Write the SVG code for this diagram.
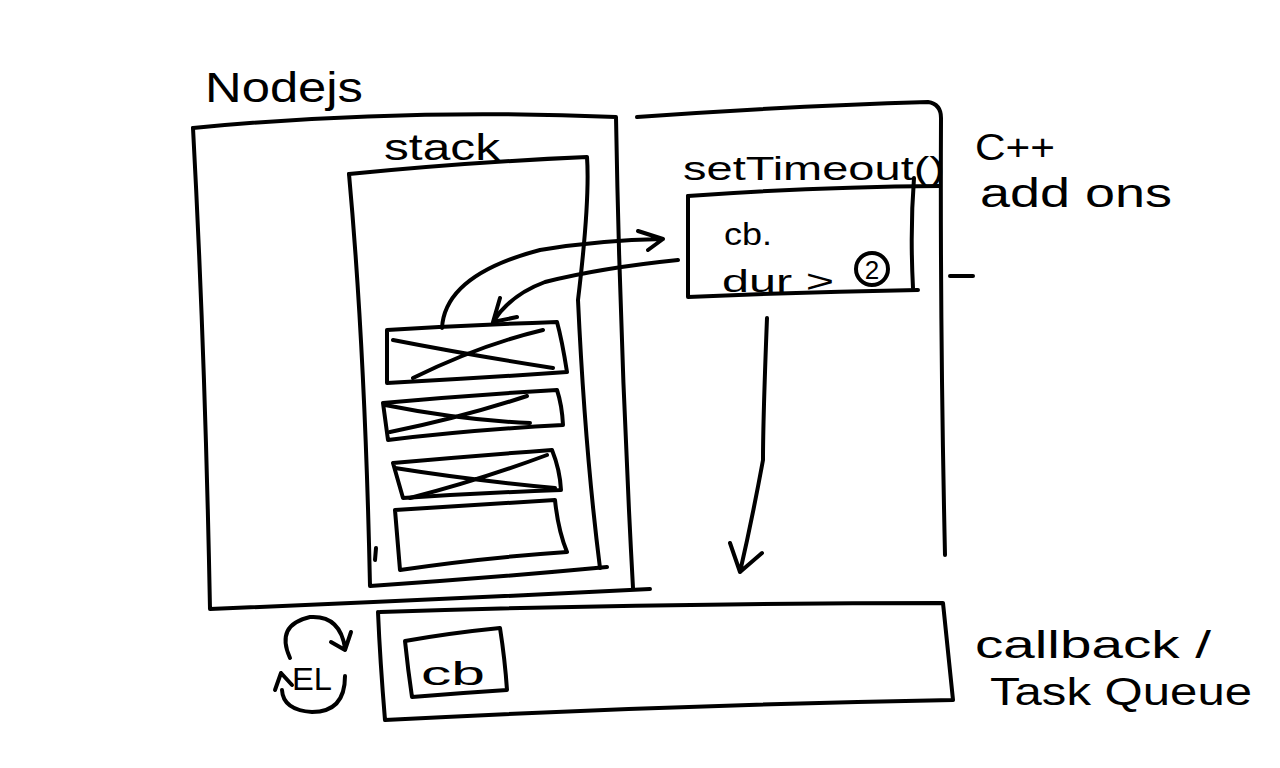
<svg xmlns="http://www.w3.org/2000/svg" width="1280" height="768" viewBox="0 0 1280 768">
<style>
.s{fill:none;stroke:#000;stroke-width:4;stroke-linecap:round;stroke-linejoin:round}
.t{font-family:"Liberation Sans","DejaVu Sans",sans-serif;fill:#000}
</style>
<rect width="1280" height="768" fill="#fff"/>
<g id="nodejs">
<path class="s" d="M193,128 Q400,108 616,117 Q620,350 633,588"/>
<path class="s" d="M193,128 Q205,350 210,609 Q430,600 650,589"/>
<text class="t" x="205" y="102" font-size="42" textLength="158" lengthAdjust="spacingAndGlyphs">Nodejs</text>
</g>
<g id="stack">
<path class="s" d="M349,174 Q470,162 587,157 Q590,200 578,300 Q585,450 600,568"/>
<path class="s" d="M349,174 Q365,350 370,586 Q490,578 607,567"/>
<text class="t" x="384" y="160" font-size="36" textLength="116" lengthAdjust="spacingAndGlyphs">stack</text>
<g id="frame1"><path class="s" d="M387,330 Q470,325 557,322 Q562,340 567,372 Q480,378 387,383 Z"/><path class="s" d="M393,340 Q470,355 553,368 M413,378 Q480,345 543,330"/></g>
<g id="frame2"><path class="s" d="M383,403 Q470,395 557,390 Q562,405 563,425 Q470,430 388,440 Z"/><path class="s" d="M385,405 Q460,420 530,423 M390,432 Q460,418 527,396"/></g>
<g id="frame3"><path class="s" d="M393,463 Q470,456 552,450 Q560,470 561,490 Q480,493 403,498 Z"/><path class="s" d="M395,468 Q470,480 555,488 M410,498 Q480,480 547,455"/></g>
<g id="frame4"><path class="s" d="M395,510 Q470,505 555,500 Q558,530 567,552 Q480,558 400,570 Z"/></g>
<path class="s" d="M376,548 L375,560"/>
</g>
<g id="cpp">
<path class="s" d="M637,117 Q790,106 928,102 Q941,104 941,118 Q940,330 945,555"/>
<text class="t" x="683" y="180" font-size="34" textLength="262" lengthAdjust="spacingAndGlyphs">setTimeout()</text>
<text class="t" x="975" y="160" font-size="36" textLength="80" lengthAdjust="spacingAndGlyphs">C++</text>
<text class="t" x="980" y="207" font-size="40" textLength="192" lengthAdjust="spacingAndGlyphs">add ons</text>
<path class="s" d="M950,276 L973,276"/>
</g>
<g id="timer">
<path class="s" d="M688,196 Q810,187 940,186"/>
<path class="s" d="M688,196 L688,297 Q800,292 918,290"/>
<path class="s" d="M914,178 Q910,230 913,288"/>
<text class="t" x="724" y="245" font-size="32" textLength="48" lengthAdjust="spacingAndGlyphs">cb.</text>
<text class="t" x="722" y="292" font-size="32" textLength="112" lengthAdjust="spacingAndGlyphs">dur &gt;</text>
<circle class="s" cx="872" cy="269" r="16"/>
<text class="t" x="872" y="279" font-size="26" text-anchor="middle">2</text>
</g>
<g id="queue">
<path class="s" d="M380,612 Q660,603 943,603 Q948,650 953,700 Q670,705 385,720 Q380,660 378,612"/>
<path class="s" d="M405,641 Q450,633 500,628 Q505,660 507,690 Q460,693 412,697 Q408,670 405,641"/>
<text class="t" x="421" y="685" font-size="34" textLength="64" lengthAdjust="spacingAndGlyphs">cb</text>
<text class="t" x="975" y="658" font-size="38" textLength="236" lengthAdjust="spacingAndGlyphs">callback /</text>
<text class="t" x="990" y="705" font-size="38" textLength="262" lengthAdjust="spacingAndGlyphs">Task Queue</text>
</g>
<g id="eventloop">
<path class="s" d="M290,658 Q275,625 310,617 Q340,615 345,648 M331,642 L345,650 L351,632"/>
<path class="s" d="M345,676 Q345,712 312,712 Q283,710 282,690 M275,690 L281,673 L292,685"/>
<text class="t" x="292" y="690" font-size="32" textLength="40" lengthAdjust="spacingAndGlyphs">EL</text>
</g>
<g id="connectors">
<path class="s" d="M442,328 Q445,275 540,250 Q600,240 663,239 M638,231 L663,239 L648,250"/>
<path class="s" d="M678,260 Q600,268 545,282 Q510,295 493,322 M500,298 L493,322 L517,317"/>
<path class="s" d="M767,318 Q763,420 763,460 Q752,520 740,572 M730,543 L740,572 L762,553"/>
</g>
</svg>
